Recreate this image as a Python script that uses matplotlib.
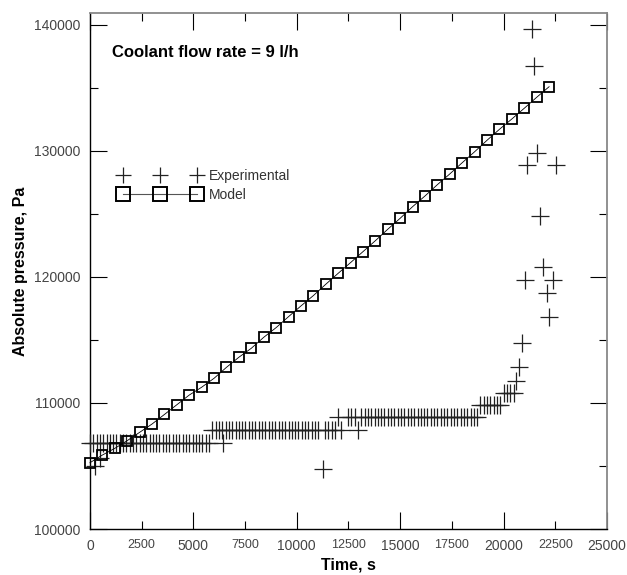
"""
plot.py
-------
Absolute pressure vs. time: experimental readings against the model,
coolant flow rate 9 l/h.
"""

import matplotlib
matplotlib.use("Agg")
import matplotlib.pyplot as plt
from matplotlib.lines import Line2D
from matplotlib.ticker import MultipleLocator, FuncFormatter, NullFormatter

plt.rcParams["font.family"] = ["Liberation Sans", "DejaVu Sans"]

# ── Model (one point every 600 s) ─────────────────────────────────────────────
model_time = [0, 600, 1200, 1800, 2400, 3000, 3600, 4200, 4800, 5400,
              6000, 6600, 7200, 7800, 8400, 9000, 9600, 10200, 10800, 11400,
              12000, 12600, 13200, 13800, 14400, 15000, 15600, 16200, 16800, 17400,
              18000, 18600, 19200, 19800, 20400, 21000, 21600, 22200]
model_pa = [105260, 105870, 106400, 107010, 107670, 108330, 109090, 109860, 110630, 111250,
            111960, 112830, 113630, 114340, 115210, 115980, 116850, 117700, 118520, 119420,
            120290, 121140, 122010, 122880, 123790, 124660, 125580, 126430, 127330, 128180,
            129070, 129940, 130850, 131720, 132540, 133390, 134260, 135100]

# ── Experimental ──────────────────────────────────────────────────────────────
# Gauge reads in steps, so most readings sit on a few plateaus
plateau_pa = [106800, 107850, 108850, 109840, 110820]
plateau_time = [
    [0, 160, 320, 480, 640, 800, 960, 1120, 1280, 1440, 1600, 1760, 1920, 2080,
     2240, 2400, 2560, 2720, 2880, 3040, 3200, 3360, 3520, 3680, 3840, 4000,
     4160, 4320, 4480, 4640, 4800, 4960, 5120, 5280, 5440, 5600, 5760, 6440],
    [5920, 6080, 6240, 6400, 6560, 6720, 6880, 7040, 7200, 7360, 7520, 7680,
     7840, 8000, 8160, 8320, 8480, 8640, 8800, 8960, 9120, 9280, 9440, 9600,
     9760, 9920, 10080, 10240, 10400, 10560, 10720, 10880, 11040, 11360, 11520,
     11680, 11840, 12160, 12960],
    [12000, 12480, 12640, 12800, 13120, 13280, 13440, 13600, 13760, 13920, 14080,
     14240, 14400, 14560, 14720, 14880, 15040, 15200, 15360, 15520, 15680, 15840,
     16000, 16160, 16320, 16480, 16640, 16800, 16960, 17120, 17280, 17440, 17600,
     17760, 17920, 18080, 18240, 18400, 18560, 18720],
    [18880, 19040, 19200, 19360, 19520, 19680, 19840],
    [20000, 20160, 20320, 20480],
]
# Readings off the plateaus: start-up, one dropout and the final burst
extra_time = [240, 480, 11250, 20600, 20760, 20880, 21040, 21150, 21360,
              21470, 21600, 21760, 21890, 22090, 22210, 22380, 22520]
extra_pa = [105000, 105600, 104760, 111750, 112880, 114790, 119760, 128890, 139660,
            136770, 129820, 124870, 120820, 118750, 116800, 119760, 128890]

exp_time, exp_pa = [], []
for p, times in zip(plateau_pa, plateau_time):
    exp_time += times
    exp_pa += [p] * len(times)
exp_time += extra_time
exp_pa += extra_pa

# ── Figure ────────────────────────────────────────────────────────────────────
fig = plt.figure(figsize=(6.27, 5.75), dpi=100)
ax = fig.add_axes([0.1435, 0.08, 0.8246, 0.8974])

ax.plot(exp_time, exp_pa, linestyle="none", marker="+", markersize=13,
        mew=0.9, color="#222222", clip_on=False, zorder=3)
ax.plot(model_time, model_pa, color="black", lw=0.6, marker="s", markersize=6.5,
        mfc="none", mec="black", mew=1.3, clip_on=False, zorder=4)

ax.set_xlim(0, 25000)
ax.set_ylim(100000, 140950)

ax.xaxis.set_major_locator(MultipleLocator(5000))
ax.xaxis.set_minor_locator(MultipleLocator(2500))
ax.xaxis.set_minor_formatter(FuncFormatter(lambda v, _: f"{v:.0f}"))
ax.yaxis.set_major_locator(MultipleLocator(10000))
ax.yaxis.set_minor_locator(MultipleLocator(5000))
ax.yaxis.set_minor_formatter(NullFormatter())

ax.tick_params(which="both", direction="in", top=True, right=True,
               width=0.8, colors="black", labelcolor="#444444", pad=7)
ax.tick_params(which="major", length=12.5, labelsize=10)
ax.tick_params(which="minor", length=6, labelsize=9)

for side in ("left", "bottom"):
    ax.spines[side].set_linewidth(1.0)
for side in ("top", "right"):
    ax.spines[side].set_color("#888888")
    ax.spines[side].set_linewidth(1.3)

ax.set_xlabel("Time, s", fontsize=11.5, fontweight="bold")
ax.set_ylabel("Absolute pressure, Pa", fontsize=11.5, fontweight="bold")
ax.xaxis.set_label_coords(0.5, -0.07)
ax.xaxis.label.set_va("center")
ax.yaxis.set_label_coords(-0.1335, 0.5)
ax.yaxis.label.set_va("center")

ax.text(0.042, 0.924, "Coolant flow rate = 9 l/h", transform=ax.transAxes,
        fontsize=12, fontweight="bold", va="center")

# Legend: three markers per entry, no frame
handles = [
    Line2D([], [], linestyle="none", marker="+", markersize=11, mew=0.9,
           color="#222222"),
    Line2D([], [], color="#555555", lw=0.8, marker="s", markersize=10,
           mfc="none", mec="black", mew=1.4),
]
leg = ax.legend(handles, ["Experimental", "Model"], loc="upper left",
                bbox_to_anchor=(0.0557, 0.697), frameon=False, numpoints=3,
                fontsize=10, handlelength=5.9, handletextpad=0.6,
                labelspacing=0.36, borderpad=0, borderaxespad=0)
for t in leg.get_texts():
    t.set_color("#333333")

fig.savefig("out.png", dpi=100)
plt.close(fig)
